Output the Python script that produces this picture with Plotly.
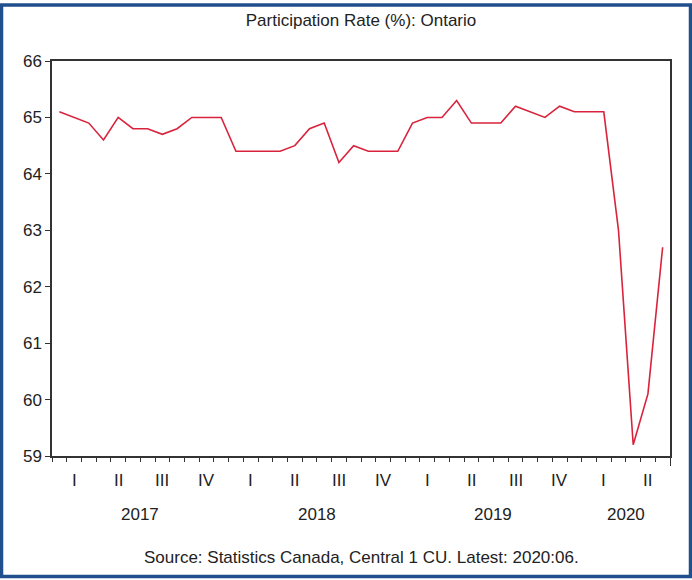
"""
Participation Rate (%): Ontario, monthly 2017:01 - 2020:06
"""

import plotly.graph_objects as go

years = ['2017', '2018', '2019', '2020']
quarters = ['I', 'II', 'III', 'IV']

rate_2017 = [65.1, 65.0, 64.9, 64.6, 65.0, 64.8, 64.8, 64.7, 64.8, 65.0, 65.0, 65.0]
rate_2018 = [64.4, 64.4, 64.4, 64.4, 64.5, 64.8, 64.9, 64.2, 64.5, 64.4, 64.4, 64.4]
rate_2019 = [64.9, 65.0, 65.0, 65.3, 64.9, 64.9, 64.9, 65.2, 65.1, 65.0, 65.2, 65.1]
rate_2020 = [65.1, 65.1, 63.0, 59.2, 60.1, 62.7]

rate = rate_2017 + rate_2018 + rate_2019 + rate_2020
months = list(range(len(rate)))  # 0 = 2017:01

font = 'Liberation Sans, Arial, sans-serif'

fig = go.Figure()
fig.add_trace(go.Scatter(x=months, y=rate, mode='lines',
                         line=dict(color='#d9233c', width=1.6),
                         showlegend=False, hoverinfo='x+y'))

# quarter boundaries get the long ticks, each month a short one
quarter_edges = [q * 3 - 0.5 for q in range(len(rate) // 3 + 1)]

fig.update_xaxes(range=[-0.5, len(rate) - 0.5],
                 showgrid=False, zeroline=False,
                 showline=True, linecolor='#333333', linewidth=1.5, mirror=True,
                 tickvals=quarter_edges, ticktext=[''] * len(quarter_edges),
                 ticks='outside', ticklen=8, tickcolor='#333333', tickwidth=1.2,
                 minor=dict(tickvals=[m - 0.5 for m in months], ticks='outside',
                            ticklen=4, tickcolor='#333333', tickwidth=1.2))
fig.update_yaxes(range=[59, 66], dtick=1,
                 showgrid=False, zeroline=False,
                 showline=True, linecolor='#333333', linewidth=1.5, mirror=True,
                 ticks='outside', ticklen=5, tickcolor='#333333', tickwidth=1.2,
                 tickfont=dict(family=font, size=17, color='#222222'))

# quarter labels under the axis
annotations = []
for i in range(len(rate) // 3):
    annotations.append(dict(x=i * 3 + 1, y=-0.061, xref='x', yref='paper',
                            yanchor='middle', text=quarters[i % 4], showarrow=False,
                            font=dict(family=font, size=17, color='#222222')))

# year labels, centred on the months of that year
for k, yr in enumerate(years):
    n = 12 if k < 3 else len(rate_2020)
    annotations.append(dict(x=k * 12 + (n - 1) / 2, y=-0.149, xref='x', yref='paper',
                            yanchor='middle', text=yr, showarrow=False,
                            font=dict(family=font, size=17, color='#222222')))

annotations.append(dict(x=0.5, y=-0.258, xref='paper', yref='paper',
                        yanchor='middle',
                        text='Source: Statistics Canada, Central 1 CU. Latest: 2020:06.',
                        showarrow=False,
                        font=dict(family=font, size=17, color='#222222')))

fig.update_layout(
    width=692, height=580,
    margin=dict(l=52, r=22, t=61, b=124),
    paper_bgcolor='white', plot_bgcolor='white',
    title=dict(text='Participation Rate (%): Ontario', x=0.5, xref='paper',
               y=1 - 20 / 580, yref='container', yanchor='middle',
               font=dict(family=font, size=17, color='#222222')),
    annotations=annotations,
    shapes=[dict(type='rect', xref='paper', yref='paper',
                 x0=-50.5 / 618, x1=638.5 / 618, y0=-120.5 / 395, y1=451 / 395,
                 line=dict(color='#1f4f8c', width=3.5), layer='below')],
)

# page body has a default 8px margin; drop it so the figure sits at 0,0
fig.write_html("out.html", config={'displayModeBar': False},
               post_script="document.body.style.margin='0';")
